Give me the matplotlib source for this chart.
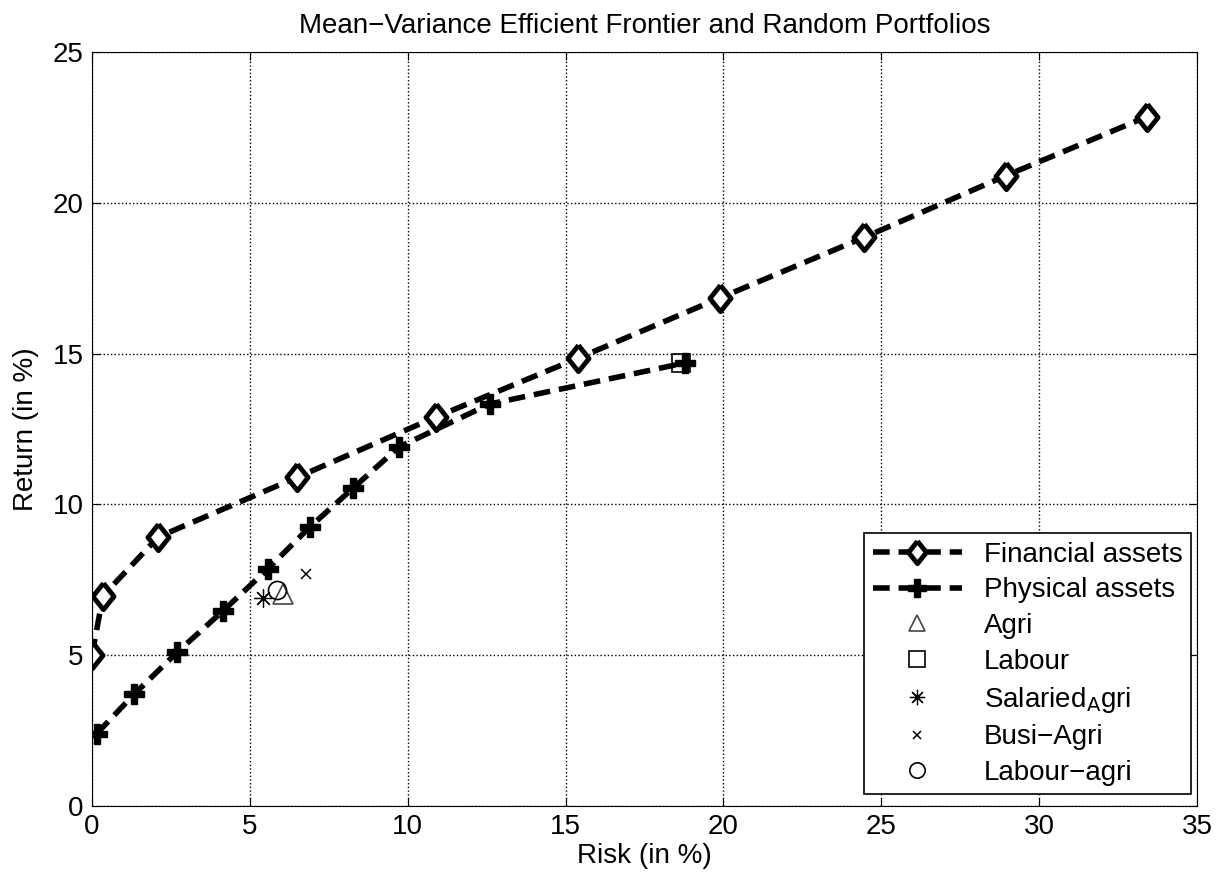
import matplotlib
matplotlib.use("Agg")
import matplotlib.pyplot as plt

plt.rcParams['font.family'] = ['Liberation Sans', 'DejaVu Sans']

# frontier data (risk, return in %)
fin_risk = [0.0, 0.35, 2.1, 6.5, 10.9, 15.4, 19.9, 24.45, 28.95, 33.4]
fin_ret = [5.0, 6.97, 8.92, 10.9, 12.9, 14.85, 16.85, 18.85, 20.9, 22.85]

phys_risk = [0.15, 1.33, 2.7, 4.15, 5.57, 6.9, 8.27, 9.72, 12.6, 18.78]
phys_ret = [2.4, 3.7, 5.1, 6.47, 7.86, 9.25, 10.54, 11.9, 13.33, 14.69]

# random portfolios
agri = (6.05, 7.03)
labour = (18.65, 14.69)
salaried_agri = (5.42, 6.9)
busi_agri = (6.78, 7.69)
labour_agri = (5.87, 7.16)

# matlab-ish diamond, a bit taller than wide
diamond = [(0, 1), (0.8, 0), (0, -1), (-0.8, 0), (0, 1)]

fig = plt.figure(figsize=(12.31, 8.84), dpi=100)
ax = fig.add_axes([0.0747, 0.0882, 0.8977, 0.853])

ax.plot(fin_risk, fin_ret, color='k', ls='--', lw=4, dashes=(3, 1.6),
        marker=diamond, ms=19, mfc='white', mec='k', mew=3.5,
        label='Financial assets')
ax.plot(phys_risk, phys_ret, color='k', ls='--', lw=4, dashes=(3, 1.6),
        marker='P', ms=15, mfc='k', mec='k',
        label='Physical assets')

ax.plot(*agri, ls='none', marker='^', ms=14, mfc='none', mec='#444444', mew=1.2, label='Agri')
ax.plot(*labour, ls='none', marker='s', ms=13, mfc='none', mec='k', mew=1.2, label='Labour')
ax.plot(*salaried_agri, ls='none', marker=(8, 2, 0), ms=13, mec='k', mew=0.9,
        label='Salaried$_{\\mathsf{A}}$gri')
ax.plot(*busi_agri, ls='none', marker='x', ms=7, mec='k', mew=1.1, label='Busi\u2212Agri')
ax.plot(*labour_agri, ls='none', marker='o', ms=13, mfc='none', mec='k', mew=1.2,
        label='Labour\u2212agri')

ax.set_xlim(0, 35)
ax.set_ylim(0, 25)
ax.set_xticks(range(0, 36, 5))
ax.set_yticks(range(0, 26, 5))
ax.tick_params(labelsize=20, direction='in', length=6, top=True, right=True, pad=6)
ax.grid(True, color='k', ls=':', lw=1)

ax.set_title('Mean\u2212Variance Efficient Frontier and Random Portfolios', fontsize=20, pad=14)
ax.set_xlabel('Risk (in %)', fontsize=20, labelpad=2)
ax.set_ylabel('Return (in %)', fontsize=20, labelpad=10)

leg = ax.legend(loc='lower right', bbox_to_anchor=(1.007, -0.003), fontsize=20,
                fancybox=False, framealpha=1, edgecolor='k', handlelength=3.2,
                borderpad=0.3, labelspacing=0.35, markerscale=0.85)
leg.get_frame().set_linewidth(1.2)

fig.savefig('out.png', dpi=100)
